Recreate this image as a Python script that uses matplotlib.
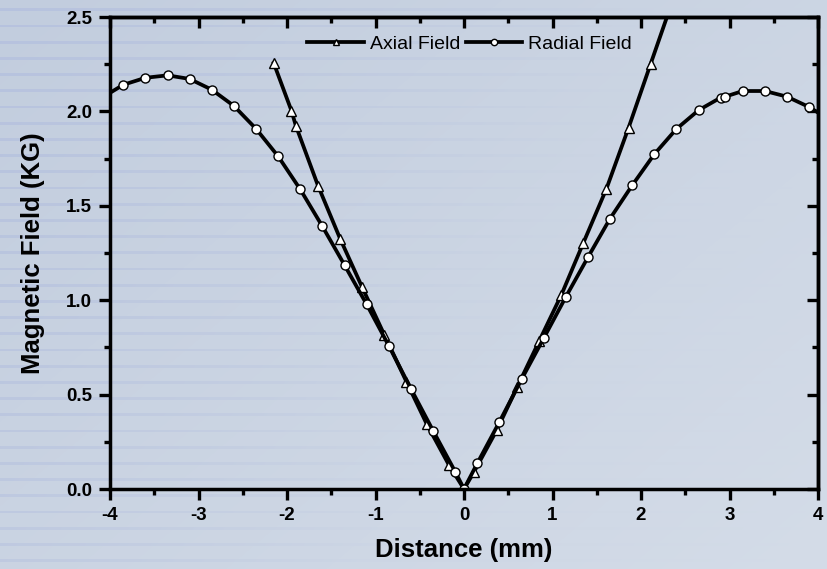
import numpy as np
import matplotlib
matplotlib.use('Agg')
from matplotlib import pyplot as plt
from matplotlib.ticker import MultipleLocator, FormatStrFormatter

plt.rcParams['font.family'] = ['Liberation Sans', 'DejaVu Sans']

# Радиальное поле (кружки)
radial_x = [-4.1, -3.85, -3.6, -3.35, -3.1, -2.85, -2.6, -2.35, -2.1, -1.85, -1.6, -1.35,
            -1.1, -0.85, -0.6, -0.35, -0.1, 0.0, 0.15, 0.4, 0.65, 0.9, 1.15, 1.4, 1.65,
            1.9, 2.15, 2.4, 2.65, 2.9, 2.95, 3.15, 3.4, 3.65, 3.9, 4.15]
radial_y = [2.07, 2.141, 2.178, 2.191, 2.172, 2.115, 2.029, 1.908, 1.762, 1.587, 1.391, 1.186,
            0.978, 0.759, 0.531, 0.309, 0.092, 0.0, 0.136, 0.355, 0.581, 0.798, 1.017, 1.227, 1.432,
            1.608, 1.773, 1.907, 2.006, 2.073, 2.078, 2.108, 2.108, 2.078, 2.023, 1.95]

# Аксиальное поле (треугольники)
axial_x = [-2.15, -1.95, -1.9, -1.65, -1.4, -1.15, -0.9, -0.65, -0.42, -0.17, 0.0,
           0.11, 0.37, 0.6, 0.85, 1.1, 1.35, 1.61, 1.86, 2.11, 2.36]
axial_y = [2.256, 2.004, 1.924, 1.607, 1.326, 1.068, 0.816, 0.568, 0.343, 0.127, 0.0,
           0.088, 0.312, 0.539, 0.784, 1.028, 1.305, 1.591, 1.914, 2.253, 2.59]

W, H = 827, 569
fig = plt.figure(figsize=(W / 100, H / 100), dpi=100)

# Фон: голубой градиент с горизонтальными полосами слева
yy, xx = np.mgrid[0:H, 0:W]
t = np.clip(0.55 * xx / W + 0.45 * yy / H, 0, 1)[..., None]
c1 = np.array([194, 205, 222]) / 255
c2 = np.array([212, 220, 232]) / 255
img = c1 * (1 - t) + c2 * t
stripe_col = np.array([178, 190, 222]) / 255
stripe = (((yy - 8) % 16.2) < 2.8).astype(float)
fade = np.clip(1.0 - xx / (W * 0.8) - 0.45 * yy / H, 0, 1) * 0.6 + 0.12 * np.clip(1 - xx / W, 0, 1)
a = (stripe * fade)[..., None]
img = img * (1 - a) + stripe_col * a
bg = fig.add_axes([0, 0, 1, 1], zorder=-1)
bg.imshow(img, aspect='auto', interpolation='bilinear')
bg.axis('off')

ax = fig.add_axes([110 / W, 1 - 489 / H, 708 / W, 472 / H])
ax.patch.set_alpha(0)

ax.plot(axial_x, axial_y, color='black', linewidth=2.7, marker='^', markersize=6.5,
        markerfacecolor='white', markeredgecolor='black', markeredgewidth=1.0, label='Axial Field')
ax.plot(radial_x, radial_y, color='black', linewidth=2.7, marker='o', markersize=6.5,
        markerfacecolor='white', markeredgecolor='black', markeredgewidth=1.0, label='Radial Field')

ax.set_xlim(-4, 4)
ax.set_ylim(0, 2.5)
ax.xaxis.set_major_locator(MultipleLocator(1))
ax.xaxis.set_minor_locator(MultipleLocator(0.5))
ax.yaxis.set_major_locator(MultipleLocator(0.5))
ax.yaxis.set_minor_locator(MultipleLocator(0.25))
ax.xaxis.set_major_formatter(FormatStrFormatter('%d'))
ax.yaxis.set_major_formatter(FormatStrFormatter('%.1f'))

for s in ax.spines.values():
    s.set_linewidth(2.5)

ax.tick_params(which='major', direction='out', length=8, width=2.4, labelsize=13.5, pad=5)
ax.tick_params(which='minor', direction='out', length=4.5, width=2.4)
for lab in ax.get_xticklabels() + ax.get_yticklabels():
    lab.set_fontweight('bold')

# Зеркальные засечки сверху и справа (внутрь)
top = ax.secondary_xaxis('top')
top.xaxis.set_major_locator(MultipleLocator(1))
top.xaxis.set_minor_locator(MultipleLocator(0.5))
top.tick_params(which='major', direction='in', length=8, width=2.4, labeltop=False)
top.tick_params(which='minor', direction='in', length=4.5, width=2.4)
top.spines['top'].set_linewidth(2.5)
right = ax.secondary_yaxis('right')
right.yaxis.set_major_locator(MultipleLocator(0.5))
right.yaxis.set_minor_locator(MultipleLocator(0.25))
right.tick_params(which='major', direction='in', length=8, width=2.4, labelright=False)
right.tick_params(which='minor', direction='in', length=4.5, width=2.4)
right.spines['right'].set_linewidth(2.5)

ax.set_xlabel('Distance (mm)', fontsize=18.5, fontweight='bold', labelpad=10)
ax.set_ylabel('Magnetic Field (KG)', fontsize=18.5, fontweight='bold', labelpad=15)

ax.legend(loc='center', bbox_to_anchor=(0.508, 0.943), ncol=2, frameon=False, fontsize=14,
          handlelength=2.9, handletextpad=0.3, columnspacing=0.3, markerscale=0.7,
          borderpad=0, borderaxespad=0)

fig.savefig('out.png', dpi=100)
